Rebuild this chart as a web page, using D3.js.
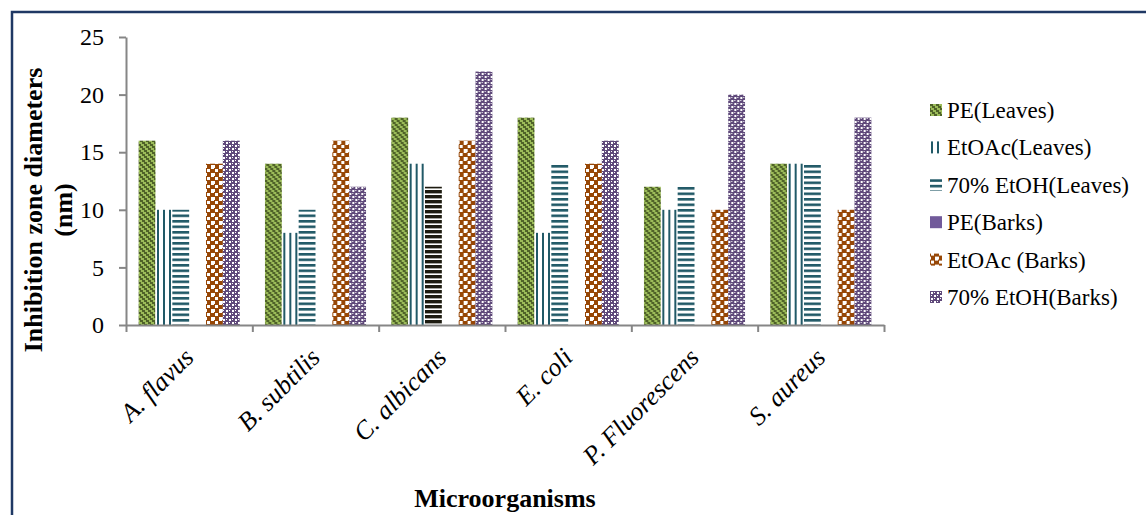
<!DOCTYPE html>
<html>
<head>
<meta charset="utf-8">
<script src="https://cdn.jsdelivr.net/npm/d3@7"></script>
<style>
  body { margin: 0; background: #fff; }
  svg { display: block; }
  svg text { font-family: "Liberation Serif", "Times New Roman", serif !important; fill: #000; }
</style>
</head>
<body>
<div id="chart"></div>
<script>
// datos
const categories = ["A. flavus", "B. subtilis", "C. albicans", "E. coli", "P. Fluorescens", "S. aureus"];
const seriesNames = ["PE(Leaves)", "EtOAc(Leaves)", "70% EtOH(Leaves)", "PE(Barks)", "EtOAc (Barks)", "70% EtOH(Barks)"];
const peLeaves = [16, 14, 18, 18, 12, 14];
const etoacLeaves = [10, 8, 14, 8, 10, 14];
const etohLeaves = [10, 10, 12, 14, 12, 14];
const peBarks = [0, 0, 0, 0, 0, 0];
const etoacBarks = [14, 16, 16, 14, 10, 10];
const etohBarks = [16, 12, 22, 16, 20, 18];
const yTicks = [0, 5, 10, 15, 20, 25];

const seriesValues = [peLeaves, etoacLeaves, etohLeaves, peBarks, etoacBarks, etohBarks];
const fills = ["url(#pPeL)", "url(#pEtoacL)", "url(#pEtohL)", "#715A9A", "url(#pEtoacB)", "url(#pEtohB)"];

const width = 1146, height = 515;
const svg = d3.select("#chart").append("svg")
    .attr("width", width)
    .attr("height", height)
    .attr("font-family", "Liberation Serif");

// patrones
const defs = svg.append("defs");

const p1 = defs.append("pattern").attr("id", "pPeL").attr("patternUnits", "userSpaceOnUse")
    .attr("width", 6).attr("height", 6);
p1.append("rect").attr("width", 6).attr("height", 6).attr("fill", "#9BBB59");
[[0, 0], [2, 2], [4, 4], [-2, 4], [4, -2], [-4, 2]].forEach(([a, b]) => {
    p1.append("rect").attr("x", a).attr("y", b).attr("width", 3).attr("height", 2).attr("fill", "#4F6228");
});
p1.append("rect").attr("x", 0).attr("y", 4).attr("width", 1).attr("height", 2).attr("fill", "#4F6228");

const p2 = defs.append("pattern").attr("id", "pEtoacL").attr("patternUnits", "userSpaceOnUse")
    .attr("width", 6).attr("height", 4);
p2.append("rect").attr("width", 6).attr("height", 4).attr("fill", "#fff");
p2.append("rect").attr("x", 1).attr("width", 2).attr("height", 4).attr("fill", "#215967");

const p3 = defs.append("pattern").attr("id", "pEtohL").attr("patternUnits", "userSpaceOnUse")
    .attr("width", 4).attr("height", 5.5);
p3.append("rect").attr("width", 4).attr("height", 5.5).attr("fill", "#fff");
p3.append("rect").attr("y", 0).attr("width", 4).attr("height", 2.6).attr("fill", "#215967");

const p3b = defs.append("pattern").attr("id", "pEtohLBlack").attr("patternUnits", "userSpaceOnUse")
    .attr("width", 4).attr("height", 5);
p3b.append("rect").attr("width", 4).attr("height", 5).attr("fill", "#fff");
p3b.append("rect").attr("y", 0).attr("width", 4).attr("height", 3.4).attr("fill", "#1D1B10");

const p5 = defs.append("pattern").attr("id", "pEtoacB").attr("patternUnits", "userSpaceOnUse")
    .attr("width", 8).attr("height", 8);
p5.append("rect").attr("width", 8).attr("height", 8).attr("fill", "#974706");
[[1, 1, 3, 3], [5, 5, 3, 3], [0, 5, 1, 3], [5, 0, 3, 1]].forEach(([a, b, w, h]) => {
    p5.append("rect").attr("x", a).attr("y", b).attr("width", w).attr("height", h).attr("fill", "#fff");
});

const p6 = defs.append("pattern").attr("id", "pEtohB").attr("patternUnits", "userSpaceOnUse")
    .attr("width", 6).attr("height", 6);
p6.append("rect").attr("width", 6).attr("height", 6).attr("fill", "#5F497A");
[[1, 1, 2, 2], [4, 4, 2, 2], [4, 1, 1, 1], [1, 4, 1, 1]].forEach(([a, b, w, h]) => {
    p6.append("rect").attr("x", a).attr("y", b).attr("width", w).attr("height", h).attr("fill", "#fff");
});

// marco
svg.append("rect")
    .attr("x", 12).attr("y", 12)
    .attr("width", width + 20).attr("height", height + 20)
    .attr("fill", "none")
    .attr("stroke", "#1F3864")
    .attr("stroke-width", 2.5);

// escalas
const x0 = d3.scaleBand()
    .domain(categories)
    .range([126, 884]);

const x1 = d3.scaleBand()
    .domain(seriesNames)
    .range([x0.bandwidth() * 0.1, x0.bandwidth() * 0.9]);

const xEdges = d3.scaleLinear()
    .domain([0, categories.length])
    .range([126, 884]);

const y = d3.scaleLinear()
    .domain([0, 25])
    .range([325, 37]);

// barras
const groups = svg.selectAll("g.cat")
    .data(categories)
    .enter()
    .append("g")
    .attr("class", "cat")
    .attr("transform", d => `translate(${x0(d)},0)`);

groups.selectAll("rect")
    .data((c, ci) => seriesNames.map((s, si) => ({ s, si, ci, v: seriesValues[si][ci] })))
    .enter()
    .append("rect")
    .attr("x", d => x1(d.s))
    .attr("y", d => y(d.v))
    .attr("width", x1.bandwidth())
    .attr("height", d => y(0) - y(d.v))
    .attr("fill", d => (d.ci === 2 && d.si === 2) ? "url(#pEtohLBlack)" : fills[d.si]);

// ejes
const yAxis = svg.append("g")
    .attr("transform", "translate(126,0)")
    .call(d3.axisLeft(y).tickValues(yTicks).tickSize(7).tickSizeOuter(0).tickPadding(15));
yAxis.attr("font-family", "Liberation Serif").attr("font-size", 24);
yAxis.selectAll("text").attr("font-size", 24).attr("fill", "#000");

const xAxis = svg.append("g")
    .attr("transform", "translate(0,325)")
    .call(d3.axisBottom(xEdges).tickValues(d3.range(categories.length + 1)).tickFormat("").tickSize(7).tickSizeOuter(0));

svg.selectAll(".domain, .tick line").attr("stroke", "#868686").attr("stroke-width", 2);

// etiquetas del eje x
svg.selectAll("text.xlab")
    .data(categories)
    .enter()
    .append("text")
    .attr("class", "xlab")
    .attr("transform", d => `translate(${x0(d) + x0.bandwidth() / 2 + 6},359) rotate(-45)`)
    .attr("text-anchor", "end")
    .attr("font-size", 26)
    .attr("font-style", "italic")
    .text(d => d);

// titulos
svg.append("text")
    .attr("transform", "translate(42,210) rotate(-90)")
    .attr("text-anchor", "middle")
    .attr("font-size", 26)
    .attr("font-weight", "bold")
    .text("Inhibition zone diameters");
svg.append("text")
    .attr("transform", "translate(72,210) rotate(-90)")
    .attr("text-anchor", "middle")
    .attr("font-size", 26)
    .attr("font-weight", "bold")
    .text("(nm)");

svg.append("text")
    .attr("x", 505)
    .attr("y", 507)
    .attr("text-anchor", "middle")
    .attr("font-size", 26)
    .attr("font-weight", "bold")
    .text("Microorganisms");

// leyenda
const legend = svg.selectAll("g.leg")
    .data(seriesNames)
    .enter()
    .append("g")
    .attr("class", "leg")
    .attr("transform", (d, i) => `translate(930,${110 + i * 37.4})`);

legend.append("rect")
    .attr("x", 0).attr("y", -6)
    .attr("width", 12).attr("height", 12)
    .attr("fill", (d, i) => fills[i]);

legend.append("text")
    .attr("x", 17)
    .attr("dy", "0.35em")
    .attr("font-size", 23)
    .text(d => d);
</script>
</body>
</html>
